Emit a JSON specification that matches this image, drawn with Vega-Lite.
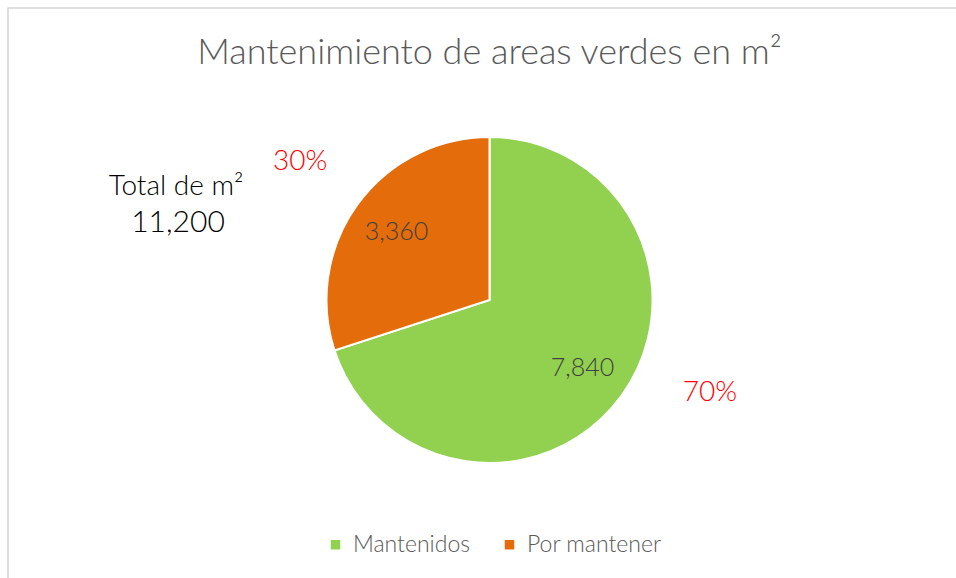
{
  "$schema": "https://vega.github.io/schema/vega-lite/v6.json",
  "width": 963,
  "height": 584,
  "autosize": {"type": "none"},
  "padding": {"left": 8, "top": 8, "right": 0, "bottom": 0},
  "background": "white",
  "view": {"stroke": "#d4d4d4", "strokeWidth": 1.5},
  "config": {
    "view": {"stroke": "#d4d4d4", "strokeWidth": 1.5},
    "font": "Lato"
  },
  "title": {
    "text": "Mantenimiento de areas verdes en m²",
    "anchor": "middle",
    "offset": -64,
    "fontSize": 36,
    "fontWeight": 300,
    "font": "Lato",
    "color": "#595959"
  },
  "data": {
    "values": [
      {"category": "Mantenidos", "value": 7840, "pct": 0.7},
      {"category": "Por mantener", "value": 3360, "pct": 0.3}
    ]
  },
  "encoding": {
    "theta": {"field": "value", "type": "quantitative", "stack": true},
    "order": {"field": "category", "type": "nominal", "sort": "ascending"},
    "color": {
      "field": "category",
      "type": "nominal",
      "scale": {"domain": ["Mantenidos", "Por mantener"], "range": ["#92D050", "#E46C0A"]},
      "legend": {
        "title": null,
        "orient": "none",
        "direction": "horizontal",
        "legendX": 316,
        "legendY": 525,
        "padding": 0,
        "symbolType": "square",
        "symbolSize": 90,
        "symbolStrokeWidth": 0,
        "labelFontSize": 23,
        "labelFont": "Lato",
        "labelFontWeight": 300,
        "labelColor": "#595959",
        "labelOffset": 6,
        "columnPadding": 28
      }
    }
  },
  "layer": [
    {
      "mark": {"type": "arc", "outerRadius": 163, "stroke": "white", "strokeWidth": 2}
    },
    {
      "mark": {"type": "text", "radius": 115, "fontSize": 25, "font": "Lato", "fontWeight": 300, "fill": "#404040"},
      "encoding": {
        "text": {"field": "value", "type": "quantitative", "format": ","},
        "color": {"field": "category", "type": "nominal", "legend": null, "scale": {"domain": ["Mantenidos", "Por mantener"], "range": ["#92D050", "#E46C0A"]}},
        "fill": {"value": "#404040"}
      }
    },
    {
      "mark": {"type": "text", "radius": 234, "fontSize": 28, "font": "Lato", "fontWeight": 300},
      "encoding": {
        "text": {"condition": {"test": "datum.category === 'Por mantener'", "field": "pct", "type": "quantitative", "format": ".0%"}, "value": ""},
        "fill": {"value": "#FF0000"}
      }
    },
    {
      "mark": {"type": "text", "radius": 239, "dx": 27, "dy": -47, "fontSize": 28, "font": "Lato", "fontWeight": 300},
      "encoding": {
        "text": {"condition": {"test": "datum.category === 'Mantenidos'", "field": "pct", "type": "quantitative", "format": ".0%"}, "value": ""},
        "fill": {"value": "#FF0000"}
      }
    },
    {
      "transform": [{"aggregate": [{"op": "sum", "field": "value", "as": "total"}]}],
      "mark": {"type": "text", "x": 168, "y": 187, "baseline": "alphabetic", "align": "center", "fontSize": 28, "font": "Lato", "fontWeight": 300, "color": "#000000", "text": "Total de m²"},
      "encoding": {"theta": null, "color": null, "order": null}
    },
    {
      "transform": [{"aggregate": [{"op": "sum", "field": "value", "as": "total"}]}],
      "mark": {"type": "text", "x": 170, "y": 224, "baseline": "alphabetic", "align": "center", "fontSize": 30, "font": "Lato", "fontWeight": 300, "color": "#000000"},
      "encoding": {
        "theta": null,
        "color": null,
        "order": null,
        "text": {"field": "total", "type": "quantitative", "format": ","}
      }
    }
  ]
}
